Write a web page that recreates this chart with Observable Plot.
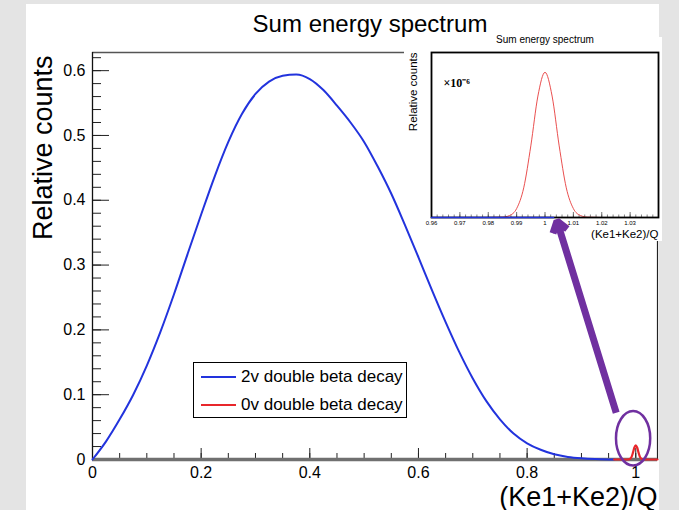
<!DOCTYPE html>
<html>
<head>
<meta charset="utf-8">
<script src="https://cdn.jsdelivr.net/npm/d3@7"></script>
<script src="https://cdn.jsdelivr.net/npm/@observablehq/plot@0.6"></script>
<style>
  html, body { margin: 0; padding: 0; }
  body { width: 679px; height: 510px; background: #e4e4e4; position: relative; overflow: hidden;
         font-family: "Liberation Sans", Arial, Helvetica, sans-serif; }
  .abs { position: absolute; }
  #panel { left: 26px; top: 4px; width: 633px; height: 510px; background: #fff; }
  #title { left: 0; top: 12px; width: 740px; text-align: center; font-size: 24px; line-height: 24px; color: #000; }
  #legend { left: 193px; top: 362px; width: 212px; height: 54px; border: 1px solid #000; background: #fff; }
  .lg-line { position: absolute; left: 7px; width: 35px; height: 2px; }
  .lg-text { position: absolute; left: 47px; font-size: 17px; line-height: 20px; color: #000; white-space: nowrap; }
  .pad { background: #fff; }
</style>
</head>
<body>
<div id="panel" class="abs"></div>
<div id="title" class="abs">Sum energy spectrum</div>
<div id="main" class="abs" style="left:0;top:0"></div>
<div id="legend" class="abs"></div>
<div class="abs pad" style="left:404px;top:37px;width:258px;height:180px"></div>
<div class="abs pad" style="left:428px;top:217px;width:234px;height:24px"></div>
<div id="inset" class="abs" style="left:404px;top:37px"></div>
<div id="overlay" class="abs" style="left:0;top:0"></div>
<script>
// ---------- data ----------
// 2ν double beta decay spectrum (main plot)
const twoNuX = [0,0.025,0.05,0.075,0.1,0.125,0.15,0.175,0.2,0.225,0.25,0.275,0.3,0.325,0.35,0.375,0.4,0.425,0.45,0.475,0.5,0.525,0.55,0.575,0.6,0.625,0.65,0.675,0.7,0.725,0.75,0.775,0.8,0.825,0.85,0.875,0.9,0.925,0.95,0.96];
const twoNuY = [0,0.028,0.062,0.1,0.145,0.197,0.255,0.317,0.378,0.437,0.49,0.533,0.564,0.583,0.592,0.594,0.587,0.57,0.546,0.52,0.49,0.452,0.41,0.362,0.312,0.261,0.212,0.166,0.125,0.09,0.062,0.04,0.025,0.015,0.008,0.004,0.0018,0.0006,0.0001,0];
// 0ν double beta decay peak (main plot)
const zeroNuX = [0.96,0.97,0.98,0.985,0.9875,0.99,0.9925,0.995,0.9975,1.0,1.0025,1.005,1.0075,1.01,1.0125,1.015,1.02,1.03,1.04];
const zeroNuY = [0,0,0,0,0.0003,0.0013,0.0045,0.011,0.0185,0.022,0.0185,0.011,0.0045,0.0013,0.0003,0,0,0,0];
// inset (zoom near Q), relative counts ×10^-6
const insetRedX = [0.96,0.97,0.98,0.985,0.9875,0.99,0.9925,0.995,0.9975,1.0,1.0025,1.005,1.0075,1.01,1.0125,1.015,1.02,1.03,1.04];
const insetRedY = [0,0,0,0.01,0.06,0.27,0.9,2.17,3.68,4.4,3.68,2.17,0.9,0.27,0.06,0.01,0,0,0];
const insetBlueX = [0.96,0.97,0.98,0.99,1.0,1.003];
const insetBlueY = [0,0,0,0,0,0];

// ticks
const xMajorTicks = [0,0.2,0.4,0.6,0.8,1];
const yMajorTicks = [0,0.1,0.2,0.3,0.4,0.5,0.6];
const insetTicks = [0.96,0.97,0.98,0.99,1,1.01,1.02,1.03];

// legend
const legendLabels = ["2v double beta decay", "0v double beta decay"];
const legendColors = ["#2233dd", "#e8262b"];

// texts
const mainTitle = "Sum energy spectrum";
const yTitle = "Relative counts";
const xTitle = "(Ke1+Ke2)/Q";
const insetScaleText = "×10⁻⁶";

// annotations (data coordinates of the main plot)
const arrowData = [{x1: 0.964, y1: 0.072, x2: 0.855, y2: 0.368}];
const ellipseData = {cx: 0.996, cy: 0.032, rx: 0.0315, ry: 0.042};

// ---------- build ----------
const W = 679, H = 510;
const mL = 92, mR = 22, mT = 52, mB = 51;
const frameW = W - mL - mR, frameH = H - mT - mB;
const xDom = [0, 1.04], yDom = [0, 0.628];

const blue = twoNuX.map((x, i) => ({x, y: twoNuY[i]}));
const red = zeroNuX.map((x, i) => ({x, y: zeroNuY[i]}));
const xMinor = d3.range(0, 1.04, 0.05);
const yMinor = d3.range(0, 0.63, 0.02);

const font = "Liberation Sans, Arial, Helvetica, sans-serif";

const mainPlot = Plot.plot({
  width: W, height: H,
  marginLeft: mL, marginRight: mR, marginTop: mT, marginBottom: mB,
  style: {background: "transparent", fontFamily: font, color: "#000", overflow: "visible"},
  x: {domain: xDom, label: null},
  y: {domain: yDom, label: null},
  marks: [
    Plot.ruleY([yDom[1]], {stroke: "#555", strokeWidth: 1.5}),
    Plot.ruleX([xDom[1]], {stroke: "#222", strokeWidth: 1.2}),
    Plot.ruleX(xMinor, {insetTop: frameH - 6, stroke: "#222"}),
    Plot.ruleX(xMajorTicks, {insetTop: frameH - 11, stroke: "#222"}),
    Plot.ruleY(yMinor, {insetRight: frameW - 9, stroke: "#222"}),
    Plot.ruleY(yMajorTicks, {insetRight: frameW - 17, stroke: "#222"}),
    Plot.ruleX([0], {stroke: "#111", strokeWidth: 1.3}),
    Plot.ruleY([0], {stroke: "#707070", strokeWidth: 3.5}),
    Plot.line(blue, {x: "x", y: "y", stroke: legendColors[0], strokeWidth: 2, curve: "monotone-x"}),
    Plot.line(red, {x: "x", y: "y", stroke: legendColors[1], strokeWidth: 2.2, curve: "monotone-x"}),
    Plot.axisX({ticks: xMajorTicks, tickSize: 0, tickPadding: 7, fontSize: 16, label: null, tickFormat: d => String(d)}),
    Plot.axisY({ticks: yMajorTicks, tickSize: 0, tickPadding: 7, fontSize: 16, label: null, tickFormat: d => String(d)}),
    Plot.text([yTitle], {frameAnchor: "top-left", rotate: -90, textAnchor: "end", lineAnchor: "bottom", dx: -41, dy: 3, fontSize: 27}),
    Plot.text([xTitle], {frameAnchor: "bottom-right", textAnchor: "end", lineAnchor: "bottom", dy: 46, fontSize: 27})
  ]
});
document.getElementById("main").appendChild(mainPlot);

// legend
const lg = document.getElementById("legend");
legendLabels.forEach((lab, i) => {
  const cy = 14 + i * 28;
  const ln = document.createElement("div");
  ln.className = "lg-line";
  ln.style.top = (cy - 1) + "px";
  ln.style.background = legendColors[i];
  lg.appendChild(ln);
  const tx = document.createElement("div");
  tx.className = "lg-text";
  tx.style.top = (cy - 10) + "px";
  tx.textContent = lab;
  lg.appendChild(tx);
});

// inset
const iW = 258, iH = 204, iL = 27, iR = 4, iT = 15, iB = 24;
const iFrameH = iH - iT - iB;
const insetRed = insetRedX.map((x, i) => ({x, y: insetRedY[i]}));
const insetBlue = insetBlueX.map((x, i) => ({x, y: insetBlueY[i]}));
const insetMinor = d3.range(0.96, 1.04, 0.002);
const insetPlot = Plot.plot({
  width: iW, height: iH,
  marginLeft: iL, marginRight: iR, marginTop: iT, marginBottom: iB,
  style: {background: "transparent", fontFamily: font, color: "#000", overflow: "visible"},
  x: {domain: [0.96, 1.04], label: null},
  y: {domain: [0, 5], label: null, axis: null},
  marks: [
    Plot.ruleX(insetMinor, {insetTop: iFrameH - 2.5, stroke: "#333", strokeWidth: 0.6}),
    Plot.ruleX(insetTicks, {insetTop: iFrameH - 5, stroke: "#333", strokeWidth: 0.7}),
    Plot.line(insetRed, {x: "x", y: "y", stroke: "#e63b3b", strokeWidth: 0.9, curve: "monotone-x"}),
    Plot.frame({stroke: "#000", strokeWidth: 1.8}),
    Plot.line(insetBlue, {x: "x", y: "y", stroke: legendColors[0], strokeWidth: 1.6}),
    Plot.axisX({ticks: insetTicks, tickSize: 0, tickPadding: 3, fontSize: 6, label: null, tickFormat: d => String(d)}),
    Plot.text([mainTitle], {frameAnchor: "top", lineAnchor: "bottom", dy: -10, fontSize: 10}),
    Plot.text([yTitle], {frameAnchor: "top-left", rotate: -90, textAnchor: "end", lineAnchor: "bottom", dx: -15, fontSize: 11.5}),
    Plot.text([xTitle], {frameAnchor: "bottom-right", textAnchor: "end", lineAnchor: "bottom", dy: 20, fontSize: 11.5}),
    Plot.text([insetScaleText], {frameAnchor: "top-left", textAnchor: "start", dx: 12, dy: 26, fontSize: 12, fontWeight: "bold", fontFamily: "Liberation Serif, Times New Roman, serif"})
  ]
});
document.getElementById("inset").appendChild(insetPlot);

// overlay annotations (same scales as main plot)
const purple = "#7030a0";
const overlayPlot = Plot.plot({
  width: W, height: H,
  marginLeft: mL, marginRight: mR, marginTop: mT, marginBottom: mB,
  style: {background: "transparent", overflow: "visible"},
  x: {domain: xDom, axis: null},
  y: {domain: yDom, axis: null},
  marks: [
    Plot.arrow(arrowData, {x1: "x1", y1: "y1", x2: "x2", y2: "y2", stroke: purple, fill: purple,
      strokeWidth: 7, headLength: 2.8, headAngle: 70, strokeLinecap: "butt"})
  ]
});
const sx = overlayPlot.scale("x"), sy = overlayPlot.scale("y");
d3.select(overlayPlot).append("ellipse")
  .attr("cx", sx.apply(ellipseData.cx))
  .attr("cy", sy.apply(ellipseData.cy))
  .attr("rx", sx.apply(ellipseData.cx + ellipseData.rx) - sx.apply(ellipseData.cx))
  .attr("ry", sy.apply(ellipseData.cy) - sy.apply(ellipseData.cy + ellipseData.ry))
  .attr("fill", "none").attr("stroke", purple).attr("stroke-width", 2.5);
document.getElementById("overlay").appendChild(overlayPlot);
</script>
</body>
</html>
